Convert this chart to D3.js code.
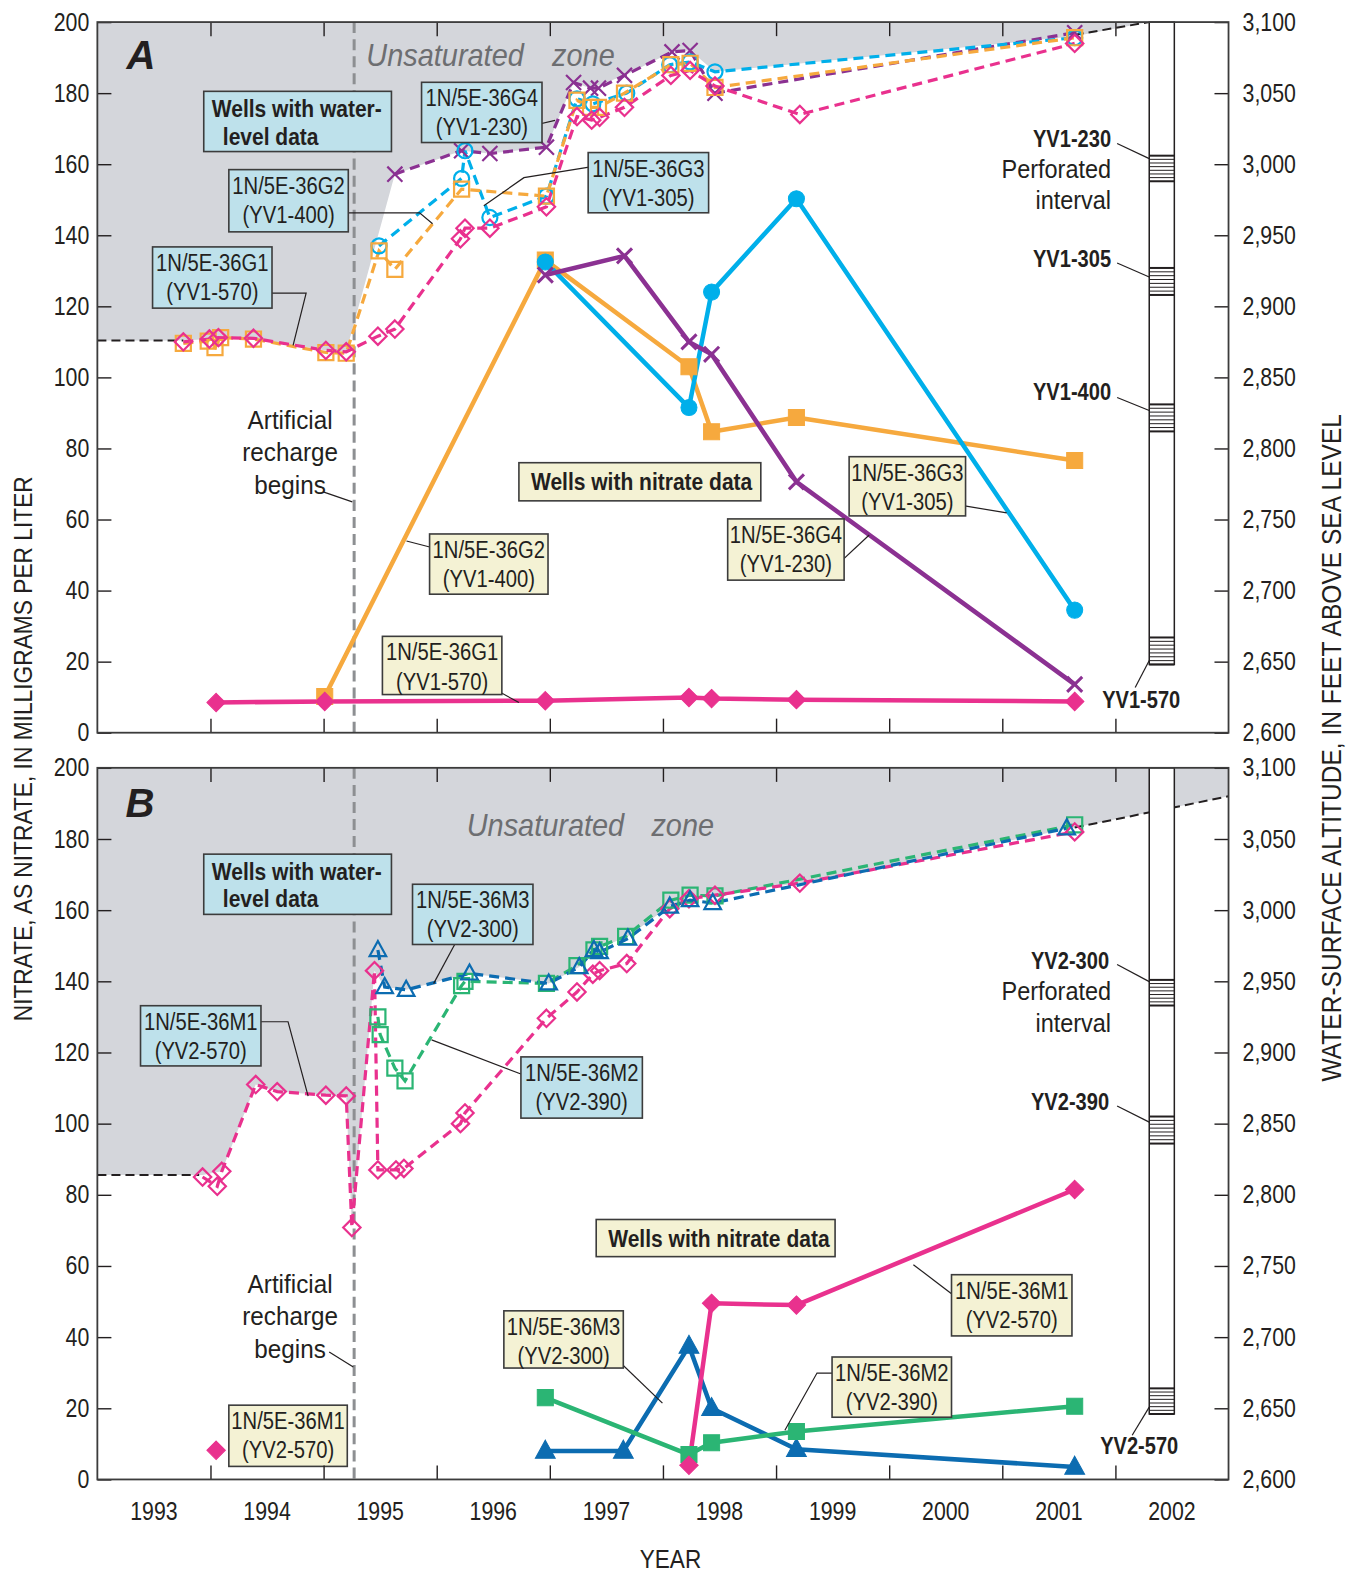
<!DOCTYPE html>
<html><head><meta charset="utf-8">
<script src="https://cdn.jsdelivr.net/npm/d3@7"></script>
<style>
html,body{margin:0;padding:0;background:#fff;}
svg text{font-family:'Liberation Sans',Arial,'Noto Sans',sans-serif;fill:#231f20;}
</style></head>
<body><svg id="c" width="1356" height="1574"></svg>
<script>
// ---------------- DATA ----------------
const yearTicks = [1994,1995,1996,1997,1998,1999,2000,2001,2002];
const yearLabels = [1993,1994,1995,1996,1997,1998,1999,2000,2001,2002];
const nitrateTicks = [0,20,40,60,80,100,120,140,160,180,200];
const altitudeTicks = [2600,2650,2700,2750,2800,2850,2900,2950,3000,3050,3100];
const rechargeYear = 1995.27;

// Panel A water levels (feet)
const wlG1Years = [1993.76,1993.99,1994.07,1994.38,1995.02,1995.2,1995.48,1995.63,1996.21,1996.25,1996.47,1996.97,1997.24,1997.37,1997.44,1997.66,1998.07,1998.24,1998.46,1999.21,2001.64];
const wlG1Feet  = [2875,2877,2878,2877.5,2869,2868,2879,2884,2947.5,2955,2955,2970,3033.5,3031,3033,3040,3062.5,3066,3055,3035,3085];
const wlG2Years = [1993.76,1993.98,1994.04,1994.09,1994.38,1995.02,1995.2,1995.49,1995.63,1996.22,1996.97,1997.24,1997.36,1997.43,1997.66,1998.07,1998.24,1998.46,2001.64];
const wlG2Feet  = [2874,2875.5,2871,2878,2877,2867.5,2867,2939,2926,2982.5,2977.5,3045,3040,3040,3050,3070,3071,3054,3089];
const wlG3Years = [1995.49,1996.22,1996.25,1996.47,1996.97,1997.24,1997.38,1997.68,1998.06,1998.24,1998.46,2001.64];
const wlG3Feet  = [2942.5,2990,3009.5,2962.5,2977.5,3046,3042.5,3050,3070,3072,3065,3089];
const wlG4Years = [1995.63,1996.22,1996.47,1996.97,1997.21,1997.36,1997.43,1997.66,1998.08,1998.24,1998.46,2001.64];
const wlG4Feet  = [2993,3009.5,3007.5,3012,3057.5,3053.5,3053.5,3062.5,3079,3080,3050,3092.5];

// Panel A nitrate (mg/L)
const noG1Years = [1994.05,1995.01,1996.96,1998.23,1998.43,1999.18,2001.64];
const noG1Vals  = [8.5,8.8,9,9.9,9.6,9.3,8.8];
const noG2Years = [1995.01,1996.96,1998.23,1998.43,1999.18,2001.64];
const noG2Vals  = [10.2,133,103,84.7,88.7,76.6];
const noG3Years = [1996.96,1998.23,1998.43,1999.18,2001.64];
const noG3Vals  = [132.5,91.5,124,150.3,34.5];
const noG4Years = [1996.96,1997.66,1998.23,1998.43,1999.18,2001.64];
const noG4Vals  = [128.8,134.2,110,106.5,70.6,13.6];

// Panel B water levels (feet)
const wlM1Years = [1993.93,1994.06,1994.1,1994.4,1994.59,1995.02,1995.2,1995.25,1995.45,1995.48,1995.64,1995.71,1996.21,1996.25,1996.97,1997.24,1997.38,1997.44,1997.68,1998.06,1998.23,1998.46,1999.21,2001.64];
const wlM1Feet  = [2812.5,2806,2816.5,2877.5,2872.5,2870,2869.5,2777,2957.5,2817.5,2817.5,2818.5,2850,2857.5,2924,2942.5,2955,2957.5,2962.5,3001,3008,3010.5,3019,3055];
const wlM2Years = [1995.48,1995.5,1995.63,1995.72,1996.22,1996.25,1996.97,1997.24,1997.39,1997.44,1997.67,1998.07,1998.24,1998.46,2001.64];
const wlM2Feet  = [2925,2912.5,2889,2880,2947,2950,2948.5,2961,2972,2974.5,2981.5,3007,3010.5,3010,3060];
const wlM3Years = [1995.48,1995.54,1995.73,1996.29,1996.99,1997.26,1997.39,1997.44,1997.69,1998.06,1998.24,1998.44,2001.57];
const wlM3Feet  = [2972,2946,2944,2955.5,2948.5,2960,2972,2970.5,2980,3002.5,3007,3005,3057.5];

// Panel B nitrate (mg/L); null = gap in line
const noM1Years = [1994.05,null,1998.23,1998.43,1999.18,2001.64];
const noM1Vals  = [8.2,null,4,49.5,49,81.5];
const noM2Years = [1996.96,1998.23,1998.43,1999.18,2001.64];
const noM2Vals  = [23,7,10.3,13.5,20.6];
const noM3Years = [1996.96,1997.65,1998.23,1998.43,1999.18,2001.64];
const noM3Vals  = [8,8,37.5,20,8.5,3.5];

// Unsaturated-zone lower boundary (feet)
const unsatAYears = [1993.0,1993.76,1993.99,1994.07,1994.38,1995.02,1995.2,1995.63,1996.22,1996.47,1996.97,1997.21,1997.36,1997.66,1998.08,1998.24,1998.46,2001.64,2002.3];
const unsatAFeet  = [2876,2876,2877,2878,2877.5,2869,2868,2993,3009.5,3007.5,3012,3057.5,3053.5,3062.5,3079,3080,3065,3090,3100];
const unsatBYears = [1993.0,1993.93,1994.1,1994.4,1994.59,1995.02,1995.2,1995.25,1995.45,1995.54,1995.73,1996.29,1996.99,1997.26,1997.39,1997.69,1998.06,1998.24,1998.46,1999.21,2001.64,2003.0];
const unsatBFeet  = [2814,2814,2816.5,2877.5,2872.5,2870,2869.5,2777,2957.5,2946,2944,2955.5,2948.5,2960,2972,2981.5,3003,3010,3010.5,3019,3058,3080];
// extrapolated water table (black dashed)
const extA = [[[1993.0,2876],[1993.76,2876]],[[2001.64,3091],[2002.3,3100]]];
const extB = [[[1993.0,2814],[1993.9,2814]],[[2001.64,3058],[2003.0,3080]]];

// Well construction (feet)
const wellATop = 3100, wellABottom = 2648;
const wellAIntervals = [["YV1-230",2988,3006],["YV1-305",2908,2927],["YV1-400",2812,2831],["YV1-570",2648,2667]];
const wellBTop = 3100, wellBBottom = 2646;
const wellBIntervals = [["YV2-300",2933,2951],["YV2-390",2836,2855],["YV2-570",2646,2664]];

// ---------------- STYLE / LAYOUT ----------------
const C = {pink:"#e9318e",orange:"#f6a93e",cyan:"#00afea",purple:"#8b3192",green:"#2bb574",blue:"#0c6cb1",
  gray:"#d4d6db",boxBlue:"#bee1eb",boxYellow:"#f4f2d4",ink:"#231f20"};
const X0 = 97, X1 = 1224;
const panels = [{id:"A",top:22,bottom:730},{id:"B",top:765,bottom:1474}];

const svgRoot = d3.select("#c");
const svg = svgRoot.append("g").attr("transform","scale(1.0037)");
const x = d3.scaleLinear().domain([1993,2003]).range([X0,X1]);

function T(parent, px, py, str, o={}){
  const sx = o.sx ?? 0.85;
  const g = parent.append("g").attr("transform",`translate(${px},${py}) scale(${sx},1)`);
  const t = g.append("text").attr("text-anchor",o.anchor||"start").attr("font-size",o.size||24).text(str);
  if(o.weight) t.attr("font-weight",o.weight);
  if(o.italic) t.attr("font-style","italic");
  if(o.fill) t.style("fill",o.fill);
  return t;
}

function zipPts(ys, vs){ return ys.map((d,i)=>({x:d, v:vs[i]})); }

function markerPath(type, s){
  const h=s/2;
  if(type==="diamond") return `M0,${-h*1.15}L${h*1.15},0L0,${h*1.15}L${-h*1.15},0Z`;
  if(type==="square") return `M${-h},${-h}H${h}V${h}H${-h}Z`;
  if(type==="circle") return d3.symbol(d3.symbolCircle, Math.PI*h*h)();
  if(type==="x") return `M${-h},${-h}L${h},${h}M${-h},${h}L${h},${-h}`;
  if(type==="triangle") return `M0,${-h*1.2}L${h*1.1},${h*0.8}L${-h*1.1},${h*0.8}Z`;
}

function drawPanel(p, cfg){
  const g = svg.append("g");
  const yN = d3.scaleLinear().domain([0,200]).range([p.bottom,p.top]);
  const yF = d3.scaleLinear().domain([2600,3100]).range([p.bottom,p.top]);

  const clipId = "clip"+p.id;
  svgRoot.append("clipPath").attr("id",clipId).append("rect")
    .attr("x",X0).attr("y",p.top).attr("width",X1-X0).attr("height",p.bottom-p.top);
  const pg = g.append("g").attr("clip-path",`url(#${clipId})`);

  const area = d3.area().x(d=>x(d.x)).y0(p.top).y1(d=>yF(d.v));
  pg.append("path").datum(zipPts(cfg.unsatYears,cfg.unsatFeet))
    .attr("d",area).attr("fill",C.gray);

  const lineF = d3.line().x(d=>x(d[0])).y(d=>yF(d[1]));
  cfg.ext.forEach(seg=>{
    pg.append("path").attr("d",lineF(seg)).attr("fill","none").attr("stroke","#231f20")
      .attr("stroke-width",2).attr("stroke-dasharray","9,5");
  });

  pg.append("line").attr("x1",x(rechargeYear)).attr("x2",x(rechargeYear))
    .attr("y1",p.top).attr("y2",p.bottom).attr("stroke","#8d8f92").attr("stroke-width",3)
    .attr("stroke-dasharray","11,6");

  T(g, cfg.letterX, cfg.letterY, p.id, {size:40, weight:"bold", italic:true, sx:1});
  cfg.unsatText.forEach(t=>{
    T(g, t[1], t[2], t[0], {size:32, italic:true, fill:"#6d6e71", sx:0.9});
  });

  const lineFP = d3.line().defined(d=>d.v!=null).x(d=>x(d.x)).y(d=>yF(d.v));
  const lineNP = d3.line().defined(d=>d.v!=null).x(d=>x(d.x)).y(d=>yN(d.v));
  cfg.water.forEach(s=>{
    pg.append("path").datum(zipPts(s.years,s.vals)).attr("d",lineFP).attr("fill","none")
      .attr("stroke",s.color).attr("stroke-width",3.2).attr("stroke-dasharray","10,6");
  });
  cfg.water.forEach(s=>{
    pg.selectAll(null).data(zipPts(s.years,s.vals)).join("path")
      .attr("transform",d=>`translate(${x(d.x)},${yF(d.v)})`)
      .attr("d",markerPath(s.marker,15)).attr("fill","none")
      .attr("stroke",s.color).attr("stroke-width",2.2);
  });
  cfg.nitrate.forEach(s=>{
    pg.append("path").datum(zipPts(s.years,s.vals)).attr("d",lineNP).attr("fill","none")
      .attr("stroke",s.color).attr("stroke-width",4.5).attr("stroke-linejoin","round");
  });
  cfg.nitrate.forEach(s=>{
    pg.selectAll(null).data(zipPts(s.years,s.vals).filter(d=>d.v!=null)).join("path")
      .attr("transform",d=>`translate(${x(d.x)},${yN(d.v)})`)
      .attr("d",markerPath(s.marker,s.marker==="x"?15:(s.marker==="triangle"?18:16)))
      .attr("fill",s.marker==="x"?"none":s.color)
      .attr("stroke",s.color).attr("stroke-width",s.marker==="x"?3:1);
  });

  cfg.boxes.forEach(b=>{
    if(b.leader){
      g.append("path").attr("d",d3.line()(b.leader)).attr("fill","none")
        .attr("stroke",C.ink).attr("stroke-width",1.2);
    }
    g.append("rect").attr("x",b.r[0]).attr("y",b.r[1]).attr("width",b.r[2]).attr("height",b.r[3])
      .attr("fill",b.fill).attr("stroke","#3c3c3c").attr("stroke-width",1.6);
    b.lines.forEach((ln,i)=>{
      if(b.bold){
        T(g, b.r[0]+(b.indent?b.indent[i]:10), b.r[1]+(b.lines.length>1?26+i*27:27), ln, {size:23, weight:"bold", sx:0.91});
      } else {
        T(g, b.r[0]+b.r[2]/2, b.r[1]+24+i*29, ln, {size:24, anchor:"middle", sx:0.84});
      }
    });
  });
  ["Artificial","recharge","begins"].forEach((s,i)=>{
    T(g, 289, cfg.arY+i*32.5, s, {size:26, anchor:"middle", sx:0.93});
  });
  g.append("path").attr("d",d3.line()(cfg.arLeader)).attr("stroke",C.ink).attr("stroke-width",1.2).attr("fill","none");

  const colX = 1145, colW = 25;
  g.append("rect").attr("x",colX).attr("y",yF(cfg.wellTop)).attr("width",colW)
    .attr("height",yF(cfg.wellBottom)-yF(cfg.wellTop)).attr("fill","#fff").attr("stroke",C.ink).attr("stroke-width",1.5);
  cfg.intervals.forEach(iv=>{
    const y0=yF(iv[2]), y1=yF(iv[1]);
    [y0,y1].forEach(yy=>g.append("line").attr("x1",colX).attr("x2",colX+colW).attr("y1",yy).attr("y2",yy).attr("stroke",C.ink).attr("stroke-width",2));
    d3.range(1,7).forEach(k=>{
      const yy = y0+(y1-y0)*k/7;
      g.append("line").attr("x1",colX).attr("x2",colX+colW).attr("y1",yy).attr("y2",yy).attr("stroke",C.ink).attr("stroke-width",1);
    });
  });
  cfg.wellLabels.forEach(w=>{
    if(w.bold) T(g, w.x, w.y, w.t, {size:23, weight:"bold", anchor:w.anchor, sx:0.87});
    else T(g, w.x, w.y, w.t, {size:26, anchor:w.anchor, sx:0.9});
  });
  cfg.wellLeaders.forEach(l=>{
    g.append("path").attr("d",d3.line()(l)).attr("stroke",C.ink).attr("stroke-width",1.2).attr("fill","none");
  });

  const SX = 0.85;
  const axL = d3.axisLeft(yN).tickValues(nitrateTicks).tickSize(-14).tickPadding(8);
  const axR = d3.axisRight(yF).tickValues(altitudeTicks).tickSize(-14).tickPadding(14).tickFormat(d3.format(","));
  const axB = d3.axisBottom(x).tickValues(yearTicks).tickSize(-14).tickFormat("");
  const axT = d3.axisTop(x).tickValues(yearTicks).tickSize(-14).tickFormat("");
  const styleAx = sel=>{ sel.select(".domain").remove(); sel.selectAll("line").attr("stroke",C.ink).attr("stroke-width",1.4);
    sel.selectAll("text").attr("font-size",25).attr("font-family",null).style("fill",C.ink)
      .each(function(){ const t=d3.select(this); const xx=+t.attr("x")||0; t.attr("x",xx/SX).attr("transform",`scale(${SX},1)`); }); };
  g.append("g").attr("transform",`translate(${X0},0)`).call(axL).call(styleAx);
  g.append("g").attr("transform",`translate(${X1},0)`).call(axR).call(styleAx);
  g.append("g").attr("transform",`translate(0,${p.bottom})`).call(axB).call(styleAx);
  g.append("g").attr("transform",`translate(0,${p.top})`).call(axT).call(styleAx);
  g.append("rect").attr("x",X0).attr("y",p.top).attr("width",X1-X0).attr("height",p.bottom-p.top)
    .attr("fill","none").attr("stroke","#3c3c3c").attr("stroke-width",1.8);
}

const blueBold = r=>({r,fill:C.boxBlue,bold:true,lines:["Wells with water-","level data"],indent:[8,19]});
const yelBold = r=>({r,fill:C.boxYellow,bold:true,lines:["Wells with nitrate data"],indent:[12]});

drawPanel(panels[0],{
  unsatYears:unsatAYears, unsatFeet:unsatAFeet, ext:extA,
  letterX:126, letterY:69,
  unsatText:[["Unsaturated",365,66],["zone",550,66]],
  water:[
    {years:wlG4Years,vals:wlG4Feet,color:C.purple,marker:"x"},
    {years:wlG3Years,vals:wlG3Feet,color:C.cyan,marker:"circle"},
    {years:wlG2Years,vals:wlG2Feet,color:C.orange,marker:"square"},
    {years:wlG1Years,vals:wlG1Feet,color:C.pink,marker:"diamond"}],
  nitrate:[
    {years:noG2Years,vals:noG2Vals,color:C.orange,marker:"square"},
    {years:noG3Years,vals:noG3Vals,color:C.cyan,marker:"circle"},
    {years:noG4Years,vals:noG4Vals,color:C.purple,marker:"x"},
    {years:noG1Years,vals:noG1Vals,color:C.pink,marker:"diamond"}],
  boxes:[
    blueBold([203,91,187,60]),
    {r:[420,82,120,60],fill:C.boxBlue,lines:["1N/5E-36G4","(YV1-230)"],leader:[[531,125],[553,120]]},
    {r:[228,169,119,62],fill:C.boxBlue,lines:["1N/5E-36G2","(YV1-400)"],leader:[[340,212],[418,212],[431,223]]},
    {r:[586,152,120,60],fill:C.boxBlue,lines:["1N/5E-36G3","(YV1-305)"],leader:[[590,166],[522,177],[482,205]]},
    {r:[152,246,119,61],fill:C.boxBlue,lines:["1N/5E-36G1","(YV1-570)"],leader:[[265,292],[305,292],[292,344]]},
    yelBold([517,461,241,38]),
    {r:[846,455,116,59],fill:C.boxYellow,lines:["1N/5E-36G3","(YV1-305)"],leader:[[955,503],[1003,511]]},
    {r:[725,517,116,61],fill:C.boxYellow,lines:["1N/5E-36G4","(YV1-230)"],leader:[[836,561],[866,533]]},
    {r:[428,532,118,60],fill:C.boxYellow,lines:["1N/5E-36G2","(YV1-400)"],leader:[[432,546],[405,539]]},
    {r:[381,634,119,58],fill:C.boxYellow,lines:["1N/5E-36G1","(YV1-570)"],leader:[[488,684],[517,700]]}],
  arY:427, arLeader:[[322,490],[351,500]],
  wellTop:wellATop, wellBottom:wellABottom, intervals:wellAIntervals,
  wellLabels:[
    {t:"YV1-230",x:1107,y:146,anchor:"end",bold:true},
    {t:"Perforated",x:1107,y:177,anchor:"end"},
    {t:"interval",x:1107,y:208,anchor:"end"},
    {t:"YV1-305",x:1107,y:266,anchor:"end",bold:true},
    {t:"YV1-400",x:1107,y:399,anchor:"end",bold:true},
    {t:"YV1-570",x:1137,y:705,anchor:"middle",bold:true}],
  wellLeaders:[[[1113,143],[1145,158]],[[1113,262],[1145,276]],[[1113,396],[1145,409]],[[1131,685],[1145,658]]]
});

drawPanel(panels[1],{
  unsatYears:unsatBYears, unsatFeet:unsatBFeet, ext:extB,
  letterX:125, letterY:814,
  unsatText:[["Unsaturated",465,833],["zone",649,833]],
  water:[
    {years:wlM2Years,vals:wlM2Feet,color:C.green,marker:"square"},
    {years:wlM1Years,vals:wlM1Feet,color:C.pink,marker:"diamond"},
    {years:wlM3Years,vals:wlM3Feet,color:C.blue,marker:"triangle"}],
  nitrate:[
    {years:noM3Years,vals:noM3Vals,color:C.blue,marker:"triangle"},
    {years:noM2Years,vals:noM2Vals,color:C.green,marker:"square"},
    {years:noM1Years,vals:noM1Vals,color:C.pink,marker:"diamond"}],
  boxes:[
    blueBold([203,851,187,60]),
    {r:[411,881,120,60],fill:C.boxBlue,lines:["1N/5E-36M3","(YV2-300)"],leader:[[453,941],[432,980]]},
    {r:[140,1002,120,60],fill:C.boxBlue,lines:["1N/5E-36M1","(YV2-570)"],leader:[[260,1018],[287,1018],[307,1092]]},
    {r:[519,1053,121,61],fill:C.boxBlue,lines:["1N/5E-36M2","(YV2-390)"],leader:[[519,1070],[430,1036]]},
    yelBold([594,1215,238,37]),
    {r:[948,1270,120,61],fill:C.boxYellow,lines:["1N/5E-36M1","(YV2-570)"],leader:[[948,1289],[910,1260]]},
    {r:[502,1306,119,57],fill:C.boxYellow,lines:["1N/5E-36M3","(YV2-300)"],leader:[[606,1346],[660,1398]]},
    {r:[829,1352,119,60],fill:C.boxYellow,lines:["1N/5E-36M2","(YV2-390)"],leader:[[829,1368],[814,1368],[782,1425]]},
    {r:[228,1400,118,61],fill:C.boxYellow,lines:["1N/5E-36M1","(YV2-570)"]}],
  arY:1288, arLeader:[[328,1347],[352,1362]],
  wellTop:wellBTop, wellBottom:wellBBottom, intervals:wellBIntervals,
  wellLabels:[
    {t:"YV2-300",x:1105,y:965,anchor:"end",bold:true},
    {t:"Perforated",x:1107,y:996,anchor:"end"},
    {t:"interval",x:1107,y:1028,anchor:"end"},
    {t:"YV2-390",x:1105,y:1106,anchor:"end",bold:true},
    {t:"YV2-570",x:1135,y:1449,anchor:"middle",bold:true}],
  wellLeaders:[[[1113,961],[1145,978]],[[1113,1102],[1145,1118]],[[1128,1430],[1145,1402]]]
});

yearLabels.forEach(d=>T(svg, x(d+0.5), 1514, d, {size:25, anchor:"middle", sx:0.85}));
T(svg, 668, 1562, "YEAR", {size:25, anchor:"middle", sx:0.9});
svg.append("text").attr("transform","translate(32,746) rotate(-90)").attr("text-anchor","middle")
  .attr("font-size",26).attr("textLength",543).attr("lengthAdjust","spacingAndGlyphs")
  .text("NITRATE, AS NITRATE, IN  MILLIGRAMS PER LITER");
svg.append("text").attr("transform","translate(1336,745) rotate(-90)").attr("text-anchor","middle")
  .attr("font-size",27).attr("textLength",665).attr("lengthAdjust","spacingAndGlyphs")
  .text("WATER-SURFACE ALTITUDE, IN FEET ABOVE SEA LEVEL");
</script></body></html>
